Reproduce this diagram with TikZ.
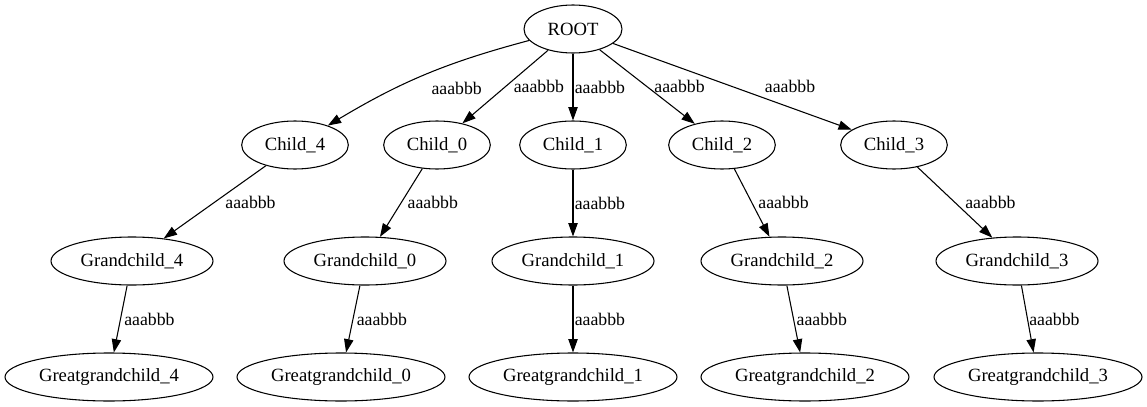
\documentclass[tikz,border=0pt]{standalone}
\usepackage{fontspec}
\setmainfont{Liberation Serif}
\usepackage{tikz}
\usetikzlibrary{shapes.geometric,arrows.meta}

\begin{document}
\begin{tikzpicture}[x=0.75pt,y=-0.75pt]
\tikzstyle{every node}=[font=\fontsize{14}{16}\selectfont]
\tikzstyle{tnode}=[draw,ellipse,line width=.8pt,inner sep=0pt,minimum height=36pt]
\tikzstyle{tedge}=[-{Triangle[length=10pt,width=7pt]},line width=.8pt]
\tikzstyle{elabel}=[font=\fontsize{13.3}{15}\selectfont,inner sep=0pt,anchor=west]
\useasboundingbox (0,0) rectangle (1147,407);

%root
\node [tnode,minimum width=73.5pt] (root) at (573,29) {ROOT};
%children
\node [tnode,minimum width=80pt] (c4) at (295,145) {Child\_4};
\node [tnode,minimum width=80pt] (c0) at (437,145) {Child\_0};
\node [tnode,minimum width=80pt] (c1) at (573,145) {Child\_1};
\node [tnode,minimum width=80pt] (c2) at (722,145) {Child\_2};
\node [tnode,minimum width=80pt] (c3) at (894,145) {Child\_3};
%grandchildren
\node [tnode,minimum width=121.5pt] (gc4) at (132,261) {Grandchild\_4};
\node [tnode,minimum width=121.5pt] (gc0) at (365,261) {Grandchild\_0};
\node [tnode,minimum width=121.5pt] (gc1) at (573,261) {Grandchild\_1};
\node [tnode,minimum width=121.5pt] (gc2) at (782,261) {Grandchild\_2};
\node [tnode,minimum width=121.5pt] (gc3) at (1017,261) {Grandchild\_3};
%great grandchildren
\node [tnode,minimum width=156pt] (ggc4) at (109,377) {Greatgrandchild\_4};
\node [tnode,minimum width=156pt] (ggc0) at (341,377) {Greatgrandchild\_0};
\node [tnode,minimum width=156pt] (ggc1) at (573,377) {Greatgrandchild\_1};
\node [tnode,minimum width=156pt] (ggc2) at (805,377) {Greatgrandchild\_2};
\node [tnode,minimum width=156pt] (ggc3) at (1038,377) {Greatgrandchild\_3};

%root edges
\draw [tedge] (root) to[bend right=8] node[elabel,pos=.5,xshift=4.5pt,yshift=-10.5pt] {aaabbb} (c4);
\draw [tedge] (root) -- node[elabel,pos=.5,xshift=6pt] {aaabbb} (c0);
\draw [tedge] (root) -- node[elabel,pos=.5,xshift=1pt] {aaabbb} (c1);
\draw [tedge] (root) -- node[elabel,pos=.5,xshift=5pt] {aaabbb} (c2);
\draw [tedge] (root) -- node[elabel,pos=.5,xshift=24pt] {aaabbb} (c3);

%child edges
\draw [tedge] (c4) -- node[elabel,pos=.5,xshift=7.5pt] {aaabbb} (gc4);
\draw [tedge] (c0) -- node[elabel,pos=.5,xshift=4.5pt] {aaabbb} (gc0);
\draw [tedge] (c1) -- node[elabel,pos=.5,xshift=1pt] {aaabbb} (gc1);
\draw [tedge] (c2) -- node[elabel,pos=.5,xshift=4.5pt] {aaabbb} (gc2);
\draw [tedge] (c3) -- node[elabel,pos=.5,xshift=7.5pt] {aaabbb} (gc3);

%grandchild edges
\draw [tedge] (gc4) -- node[elabel,pos=.5,xshift=2.5pt] {aaabbb} (ggc4);
\draw [tedge] (gc0) -- node[elabel,pos=.5,xshift=2.5pt] {aaabbb} (ggc0);
\draw [tedge] (gc1) -- node[elabel,pos=.5,xshift=1pt] {aaabbb} (ggc1);
\draw [tedge] (gc2) -- node[elabel,pos=.5,xshift=2pt] {aaabbb} (ggc2);
\draw [tedge] (gc3) -- node[elabel,pos=.5,xshift=1pt] {aaabbb} (ggc3);
\end{tikzpicture}
\end{document}
